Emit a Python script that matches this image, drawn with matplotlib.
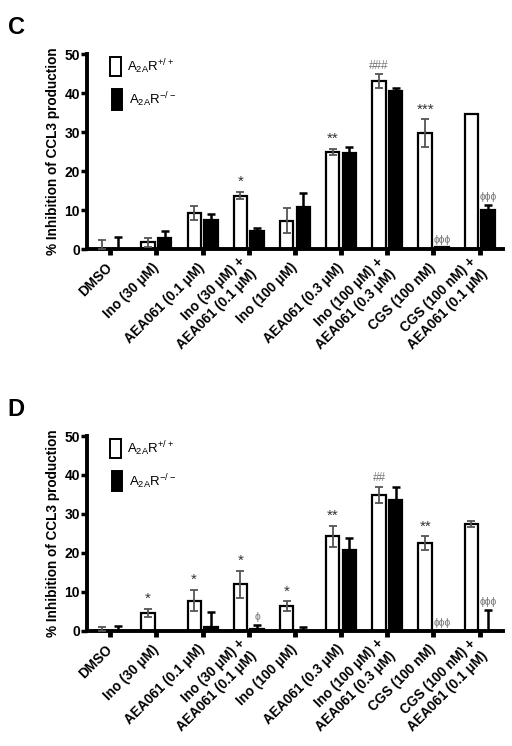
import matplotlib
matplotlib.use("Agg")
import matplotlib.pyplot as plt
from matplotlib.patches import Rectangle
from matplotlib.transforms import offset_copy
import numpy as np

plt.rcParams['font.family'] = ['Liberation Sans', 'DejaVu Sans']
plt.rcParams['mathtext.default'] = 'regular'

categories = ["DMSO", "Ino (30 μM)", "AEA061 (0.1 μM)", "Ino (30 μM) +\nAEA061 (0.1 μM)",
              "Ino (100 μM)", "AEA061 (0.3 μM)", "Ino (100 μM) +\nAEA061 (0.3 μM)",
              "CGS (100 nM)", "CGS (100 nM) +\nAEA061 (0.1 μM)"]
series_names = ["A$_{2A}$R$^{+/+}$", "A$_{2A}$R$^{-/-}$"]

# Panel C
c_wt = [0.0, 1.7, 9.2, 13.7, 7.2, 24.9, 43.0, 29.7, 34.6]
c_wt_err = [2.2, 1.1, 1.8, 1.0, 3.2, 0.8, 1.8, 3.6, 0.0]
c_ko = [0.0, 2.7, 7.4, 4.6, 10.8, 24.6, 40.6, 0.4, 10.1]
c_ko_err = [3.0, 1.9, 1.5, 0.8, 3.5, 1.5, 0.7, 0.0, 1.3]
c_marks = [(3, 0, "*"), (5, 0, "**"), (6, 0, "###"), (7, 0, "***"), (7, 1, "ϕϕϕ"), (8, 1, "ϕϕϕ")]

# Panel D
d_wt = [0.0, 4.6, 7.7, 11.9, 6.2, 24.2, 34.9, 22.4, 27.3]
d_wt_err = [1.0, 1.0, 2.8, 3.5, 1.3, 2.7, 2.0, 1.8, 0.8]
d_ko = [0.0, 0.0, 0.8, 0.3, 0.0, 20.7, 33.5, 0.0, 0.0]
d_ko_err = [1.2, 0.0, 4.0, 1.1, 0.9, 3.1, 3.4, 0.0, 5.3]
d_marks = [(1, 0, "*"), (2, 0, "*"), (3, 0, "*"), (3, 1, "ϕ"), (4, 0, "*"), (5, 0, "**"),
           (6, 0, "##"), (7, 0, "**"), (7, 1, "ϕϕϕ"), (8, 1, "ϕϕϕ")]

yticks = [0, 10, 20, 30, 40, 50]
ylabel = "% Inhibition of CCL3 production"

fig = plt.figure(figsize=(5.12, 7.46), dpi=100)

W = 0.29
OFF = 0.18

def panel(ax, wt, wt_err, ko, ko_err, marks, letter):
    x = np.arange(len(categories))
    ax.bar(x - OFF, wt, W, color='white', edgecolor='black', linewidth=1.6, zorder=2)
    ax.bar(x + OFF, ko, W, color='black', edgecolor='black', linewidth=1.6, zorder=2)
    wt_arr = np.array(wt); wte = np.array(wt_err)
    lo = np.minimum(wte, wt_arr)
    m = wte > 0
    ax.errorbar((x - OFF)[m], wt_arr[m], yerr=[lo[m], wte[m]], fmt='none', ecolor='#555555',
                elinewidth=1.3, capsize=3, capthick=1.3, zorder=3)
    ko_arr = np.array(ko); koe = np.array(ko_err)
    m2 = koe > 0
    ax.errorbar((x + OFF)[m2], ko_arr[m2], yerr=[np.zeros(m2.sum()), koe[m2]], fmt='none',
                ecolor='black', elinewidth=1.8, capsize=3, capthick=1.8, zorder=3)
    for g, s, txt in marks:
        if s == 0:
            xx = g - OFF; top = wt[g] + wt_err[g]
        else:
            xx = g + OFF; top = ko[g] + ko_err[g]
        if '*' in txt:
            col, fs = '#333333', 11
        elif '#' in txt:
            col, fs = '#777777', 8.5
        else:
            col, fs = '#777777', 7.5
        ax.text(xx, top, txt, ha='center', va='bottom', fontsize=fs, color=col,
                transform=offset_copy(ax.transData, fig=fig, x=0, y=2, units='points'),
                clip_on=False)
    ax.set_xlim(-0.5, 8.5)
    ax.set_ylim(0, 50)
    ax.set_yticks(yticks)
    ax.set_yticklabels([str(t) for t in yticks], fontsize=10, fontweight='bold')
    ax.set_xticks(x)
    ax.set_xticklabels(categories, fontsize=9.8, fontweight='bold', rotation=45,
                       ha='right', va='center', rotation_mode='anchor', linespacing=1.3)
    ax.tick_params(axis='x', length=4, width=3.5, pad=8)
    ax.tick_params(axis='y', length=4, width=2.5, pad=1)
    for sp in ['top', 'right']:
        ax.spines[sp].set_visible(False)
    for sp in ['left', 'bottom']:
        ax.spines[sp].set_linewidth(2.8)
    ax.set_ylabel(ylabel, fontsize=9.8, fontweight='bold', labelpad=3)
    # legend
    ax.add_patch(Rectangle((0.056, 0.885), 0.026, 0.1, transform=ax.transAxes, facecolor='white',
                           edgecolor='black', linewidth=1.4, clip_on=False))
    ax.add_patch(Rectangle((0.059, 0.715), 0.026, 0.105, transform=ax.transAxes, facecolor='black',
                           edgecolor='black', linewidth=1.4, clip_on=False))
    ax.text(0.097, 0.935, series_names[0], transform=ax.transAxes, fontsize=9.5, va='center', ha='left')
    ax.text(0.100, 0.765, series_names[1], transform=ax.transAxes, fontsize=9.5, va='center', ha='left')
    fig.text(0.015, ax.get_position().y1 + 0.035, letter, fontsize=17, fontweight='bold',
             va='center', ha='left')

axC = fig.add_axes([0.170, 0.6662, 0.812, 0.2614])
axD = fig.add_axes([0.170, 0.1548, 0.812, 0.2607])
panel(axC, c_wt, c_wt_err, c_ko, c_ko_err, c_marks, "C")
panel(axD, d_wt, d_wt_err, d_ko, d_ko_err, d_marks, "D")

fig.savefig("out.png", dpi=100)
